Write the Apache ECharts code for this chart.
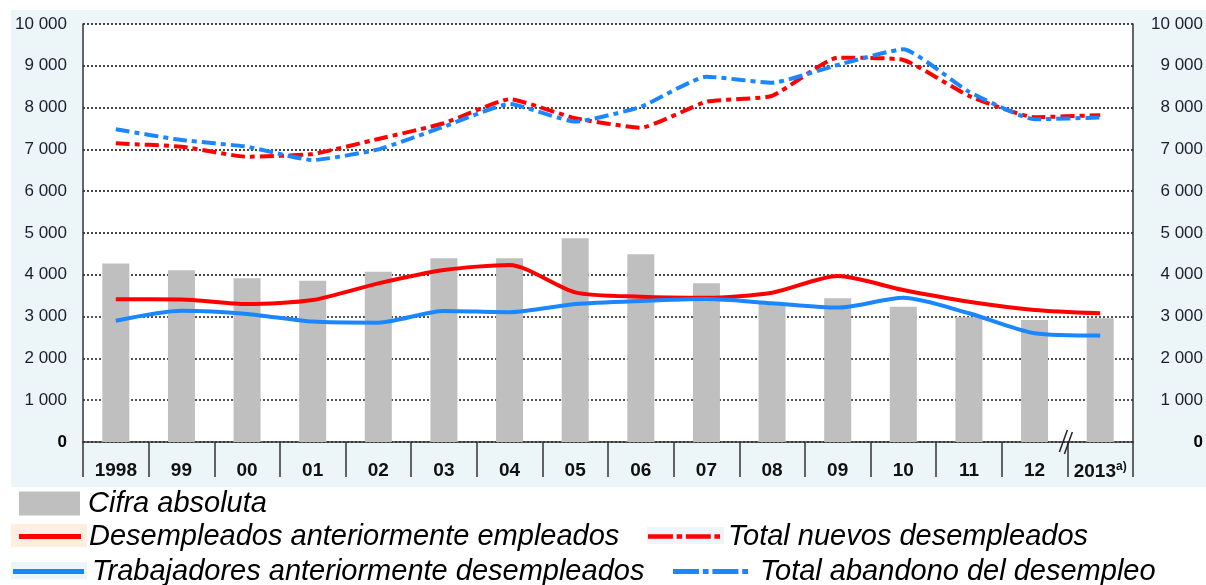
<!DOCTYPE html>
<html>
<head>
<meta charset="utf-8">
<script src="https://cdn.jsdelivr.net/npm/echarts@6/dist/echarts.min.js"></script>
<style>
html,body{margin:0;padding:0;background:#fff;}
#chart{width:1206px;height:585px;}
</style>
</head>
<body>
<div id="chart"></div>
<script>
// ---- data ----
const years = ['1998','99','00','01','02','03','04','05','06','07','08','09','10','11','12','2013'];
const cifraAbsoluta = [4270,4110,3915,3860,4075,4395,4395,4875,4490,3795,3320,3440,3235,2985,2920,2960];
const desempleadosAntEmpleados = [3415,3410,3300,3395,3795,4115,4235,3580,3475,3450,3570,3970,3635,3355,3160,3080];
const trabajadoresAntDesempleados = [2900,3140,3065,2880,2855,3135,3105,3300,3375,3420,3320,3215,3450,3080,2600,2545];
const totalNuevosDesempleados = [7145,7065,6825,6890,7250,7625,8200,7745,7520,8140,8280,9195,9140,8280,7770,7820];
const totalAbandonoDesempleo = [7480,7225,7065,6745,7000,7545,8085,7665,8020,8740,8595,9020,9395,8380,7720,7765];
const seriesNames = ['Cifra absoluta','Desempleados anteriormente empleados','Total nuevos desempleados','Trabajadores anteriormente desempleados','Total abandono del desempleo'];
const yMin = 0, yMax = 10000, yStep = 1000;

const FONT = 'Liberation Sans, Arial, sans-serif';
const RED = '#ff0000';
const BLUE = '#1a86ff';
const DASHDOT = [14, 5, 5, 5];
// legend glyph of a dash-dot line (dash, dot, dash, dot)
const DASHDOT_ICON = 'path://M0,0H27V5H0Z M31,0H37V5H31Z M41,0H68V5H41Z M72,0H78V5H72Z';

function fmtY(v){
  if (v === 0) return '{z|0}';
  return String(v).replace(/\B(?=(\d{3})+(?!\d))/g, ' ');
}

const legendText = {fontFamily: FONT, fontStyle: 'italic', fontSize: 29, color: '#000', padding: [0,0,0,3]};

const chart = echarts.init(document.getElementById('chart'), null, {renderer: 'canvas'});

const yLabelBase = {fontFamily: FONT, fontSize: 17, color: '#1a1f2c', rich: {z: {fontFamily: FONT, fontSize: 17, fontWeight: 'bold', color: '#000'}}};

const option = {
  backgroundColor: '#ffffff',
  animation: false,
  grid: {left: 83, right: 73, top: 24, bottom: 143, show: true, backgroundColor: '#ffffff', borderWidth: 0},
  xAxis: [{
    type: 'category', data: years, gridIndex: 0, position: 'bottom',
    axisLine: {show: false},
    axisTick: {show: true, length: 35, interval: 0, lineStyle: {color: '#333', width: 1.5}},
    axisLabel: {
      interval: 0, margin: 19, fontFamily: FONT, fontSize: 19, fontWeight: 'bold', color: '#111',
      formatter: v => v === '2013' ? '2013{sup|a)}' : v,
      rich: {sup: {fontFamily: FONT, fontSize: 12, fontWeight: 'bold', color: '#111', padding: [0,0,10,0]}}
    }
  }, {
    type: 'category', data: years, gridIndex: 0, position: 'top',
    axisLine: {show: true, lineStyle: {color: '#333', width: 1.5}},
    axisTick: {show: false}, axisLabel: {show: false}
  }],
  yAxis: [{
    type: 'value', min: yMin, max: yMax, interval: yStep, position: 'left',
    axisLine: {show: true, lineStyle: {color: '#333', width: 1.5}},
    axisTick: {show: false},
    splitLine: {show: true, lineStyle: {color: '#1a1a1a', width: 1.6, type: [2, 2]}},
    axisLabel: Object.assign({margin: 16, formatter: fmtY}, yLabelBase)
  }, {
    type: 'value', min: yMin, max: yMax, interval: yStep, position: 'right',
    axisLine: {show: true, lineStyle: {color: '#333', width: 1.5}},
    axisTick: {show: false}, splitLine: {show: false},
    axisLabel: Object.assign({margin: 70, align: 'right', formatter: fmtY}, yLabelBase)
  }],
  legend: [
    {data: [{name: seriesNames[0], icon: 'rect'}], left: 19, top: 489, itemWidth: 61, itemHeight: 24, padding: 0, selectedMode: false, textStyle: legendText},
    {data: [{name: seriesNames[1], icon: 'rect'}], left: 19, top: 522, itemWidth: 62, itemHeight: 5, padding: 0, selectedMode: false, textStyle: legendText},
    {data: [{name: seriesNames[2], icon: DASHDOT_ICON}], left: 648, top: 522, itemWidth: 72, itemHeight: 5, padding: 0, selectedMode: false, textStyle: legendText},
    {data: [{name: seriesNames[3], icon: 'rect'}], left: 13, top: 557, itemWidth: 71, itemHeight: 5, padding: 0, selectedMode: false, textStyle: legendText},
    {data: [{name: seriesNames[4], icon: DASHDOT_ICON}], left: 673, top: 557, itemWidth: 75, itemHeight: 5, padding: 0, selectedMode: false, textStyle: Object.assign({}, legendText, {padding: [0,0,0,7]})}
  ],
  series: [
    {name: seriesNames[0], type: 'bar', data: cifraAbsoluta, barWidth: 27, itemStyle: {color: '#bfbfbf'}, z: 2},
    {name: seriesNames[1], type: 'line', data: desempleadosAntEmpleados, symbol: 'none', smooth: 0.25, lineStyle: {color: RED, width: 4}, itemStyle: {color: RED}, z: 4},
    {name: seriesNames[2], type: 'line', data: totalNuevosDesempleados, symbol: 'none', smooth: 0.15, lineStyle: {color: RED, width: 4, type: DASHDOT}, itemStyle: {color: RED}, z: 4},
    {name: seriesNames[3], type: 'line', data: trabajadoresAntDesempleados, symbol: 'none', smooth: 0.25, lineStyle: {color: BLUE, width: 4}, itemStyle: {color: BLUE}, z: 4},
    {name: seriesNames[4], type: 'line', data: totalAbandonoDesempleo, symbol: 'none', smooth: 0.15, lineStyle: {color: BLUE, width: 4, type: DASHDOT}, itemStyle: {color: BLUE}, z: 4}
  ]
};

chart.setOption(option);

// decorations: panel background, legend icon backgrounds, axis break mark
const a = chart.convertToPixel({xAxisIndex: 0, yAxisIndex: 0}, [years[years.length - 2], 0]);
const b = chart.convertToPixel({xAxisIndex: 0, yAxisIndex: 0}, [years[years.length - 1], 0]);
const bx = (a[0] + b[0]) / 2, by = a[1];

chart.setOption({
  graphic: [
    {id: 'panel', type: 'rect', left: 11, top: 10, z: -100, silent: true, shape: {width: 1195, height: 477}, style: {fill: '#ecf5f8'}},
    {id: 'lg1', type: 'rect', left: 11, top: 524, z: -100, silent: true, shape: {width: 76, height: 23}, style: {fill: '#fdeedf'}},
    {id: 'lg2', type: 'rect', left: 647, top: 527, z: -100, silent: true, shape: {width: 77, height: 17}, style: {fill: '#ecf5f8'}},
    {id: 'lg3', type: 'rect', left: 11, top: 562, z: -100, silent: true, shape: {width: 76, height: 17}, style: {fill: '#ecf5f8'}},
    {id: 'brk1', type: 'line', z: 100, silent: true, shape: {x1: bx - 8, y1: by + 10, x2: bx, y2: by - 12}, style: {stroke: '#222', lineWidth: 1.5}},
    {id: 'brk2', type: 'line', z: 100, silent: true, shape: {x1: bx - 3, y1: by + 12, x2: bx + 5, y2: by - 10}, style: {stroke: '#222', lineWidth: 1.5}}
  ]
});
</script>
</body>
</html>
